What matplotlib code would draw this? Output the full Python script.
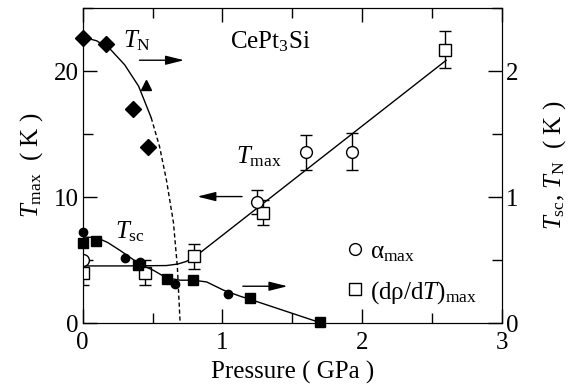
import matplotlib
matplotlib.use('Agg')
from matplotlib import pyplot as plt
from matplotlib.lines import Line2D
from matplotlib.ticker import MultipleLocator

plt.rcParams['font.family'] = ['Liberation Serif', 'DejaVu Serif']
plt.rcParams['mathtext.fontset'] = 'custom'
plt.rcParams['mathtext.rm'] = 'Liberation Serif'
plt.rcParams['mathtext.it'] = 'Liberation Serif:italic'
plt.rcParams['font.size'] = 18

# T_max from thermal expansion (alpha_max) and resistivity (drho/dT)_max, left axis
alphaP = [0.0, 1.245, 1.60, 1.93]
alphaT = [5.05, 9.6, 13.55, 13.62]
alphaErr = [0.0, 0.95, 1.4, 1.45]

rhoP = [0.0, 0.446, 0.797, 1.293, 2.595]
rhoT = [4.0, 4.0, 5.31, 8.76, 21.7]
rhoErr = [1.0, 1.0, 1.0, 1.0, 1.45]

tmaxLineP = [0.0, 0.3, 0.6, 0.68, 0.74, 0.8, 2.6]
tmaxLineT = [4.55, 4.55, 4.58, 4.7, 4.9, 5.25, 20.85]

# T_N and T_sc, right axis
tnDiamondP = [0.0, 0.167, 0.358, 0.47]
tnDiamondT = [2.26, 2.215, 1.70, 1.40]
tnTriangleP = [0.45]
tnTriangleT = [1.89]

tnLineP = [0.0, 0.1, 0.2, 0.3, 0.4, 0.49]
tnLineT = [2.27, 2.24, 2.17, 2.05, 1.88, 1.63]
tnDashP = [0.49, 0.55, 0.6, 0.649, 0.677, 0.697]
tnDashT = [1.63, 1.40, 1.13, 0.80, 0.45, 0.0]

tscCircleP = [0.0, 0.303, 0.41, 0.661, 1.042]
tscCircleT = [0.723, 0.52, 0.484, 0.308, 0.234]
tscSquareP = [0.0, 0.095, 0.394, 0.601, 0.792, 1.198, 1.70]
tscSquareT = [0.64, 0.65, 0.46, 0.35, 0.342, 0.197, 0.013]

tscLineP = [0.0, 0.1, 0.18, 0.267, 0.41, 0.506, 0.6, 0.697, 0.79, 0.887, 1.007, 1.126, 1.198, 1.70]
tscLineT = [0.684, 0.68, 0.64, 0.578, 0.468, 0.42, 0.36, 0.342, 0.342, 0.328, 0.263, 0.215, 0.19, 0.005]

fig = plt.figure(figsize=(5.74, 3.91), dpi=100)
ax = fig.add_axes([0.1441, 0.1731, 0.7305, 0.8064])
ax2 = ax.twinx()

ax.plot(tmaxLineP, tmaxLineT, 'k-', lw=1.0)
ax.errorbar(rhoP, rhoT, yerr=rhoErr, fmt='s', mfc='white', mec='k', ms=8, mew=1.0,
            ecolor='k', elinewidth=1.0, capsize=4.5, capthick=1.0, zorder=3)
ax.errorbar(alphaP, alphaT, yerr=alphaErr, fmt='o', mfc='white', mec='k', ms=8.5, mew=1.0,
            ecolor='k', elinewidth=1.0, capsize=4.5, capthick=1.0, zorder=3)

ax2.plot(tnLineP, tnLineT, 'k-', lw=1.0)
ax2.plot(tnDashP, tnDashT, 'k--', lw=1.0, dashes=(3, 2))
ax2.plot(tnDiamondP, tnDiamondT, 'kD', ms=8, clip_on=False)
ax2.plot(tnTriangleP, tnTriangleT, 'k^', ms=7.5)
ax2.plot(tscLineP, tscLineT, 'k-', lw=1.0)
ax2.plot(tscCircleP, tscCircleT, 'ko', ms=6, clip_on=False)
ax2.plot(tscSquareP, tscSquareT, 'ks', ms=6.5, clip_on=False)

# arrows pointing to the axis each curve belongs to
arrow = dict(arrowstyle='-|>,head_length=0.8,head_width=0.2', color='k', lw=1.0, mutation_scale=14)
ax.annotate('', xy=(0.745, 20.86), xytext=(0.386, 20.86), arrowprops=arrow)
ax.annotate('', xy=(0.80, 10.05), xytext=(1.16, 10.05), arrowprops=arrow)
ax.annotate('', xy=(1.485, 2.94), xytext=(1.126, 2.94), arrowprops=arrow)

ax.text(0.29, 22.4, r'$T_{\rm N}$', fontsize=18, va='center')
ax.text(1.34, 22.3, r'CePt$_3$Si', fontsize=18, ha='center', va='center')
ax.text(1.10, 13.2, r'$T_{\rm max}$', fontsize=18, va='center')
ax.text(0.23, 7.3, r'$T_{\rm sc}$', fontsize=18, va='center')

handles = [Line2D([], [], ls='', marker='o', mfc='white', mec='k', ms=8.5),
           Line2D([], [], ls='', marker='s', mfc='white', mec='k', ms=8)]
ax.legend(handles, [r'α$_{\rm max}$', r'(dρ/d$T$)$_{\rm max}$'],
          loc='lower left', bbox_to_anchor=(0.572, -0.015), frameon=False,
          handlelength=0.8, handletextpad=0.2, labelspacing=0.6, fontsize=18)

ax.set_xlim(0, 3)
ax.set_ylim(0, 25)
ax2.set_ylim(0, 2.5)
ax.xaxis.set_major_locator(MultipleLocator(1))
ax.xaxis.set_minor_locator(MultipleLocator(0.5))
ax.yaxis.set_major_locator(MultipleLocator(10))
ax.yaxis.set_minor_locator(MultipleLocator(5))
ax2.yaxis.set_major_locator(MultipleLocator(1))
ax2.yaxis.set_minor_locator(MultipleLocator(0.5))
ax.tick_params(which='both', direction='in', top=True, labelsize=18, width=1.0)
ax.tick_params(axis='x', pad=6)
ax.tick_params(axis='y', pad=3)
ax.tick_params(which='major', length=10)
ax.tick_params(which='minor', length=7)
ax2.tick_params(which='both', direction='in', labelsize=18, width=1.0, pad=3)
ax2.tick_params(which='major', length=10)
ax2.tick_params(which='minor', length=7)

ax.set_xlabel('Pressure ( GPa )', fontsize=18, labelpad=5)
ax.set_ylabel(r'$T_{\rm max}$  ( K )', fontsize=18, labelpad=6)
ax2.set_ylabel(r'$T_{\rm sc}$, $T_{\rm N}$  ( K )', fontsize=18, labelpad=16)

plt.savefig('out.png', dpi=100)
